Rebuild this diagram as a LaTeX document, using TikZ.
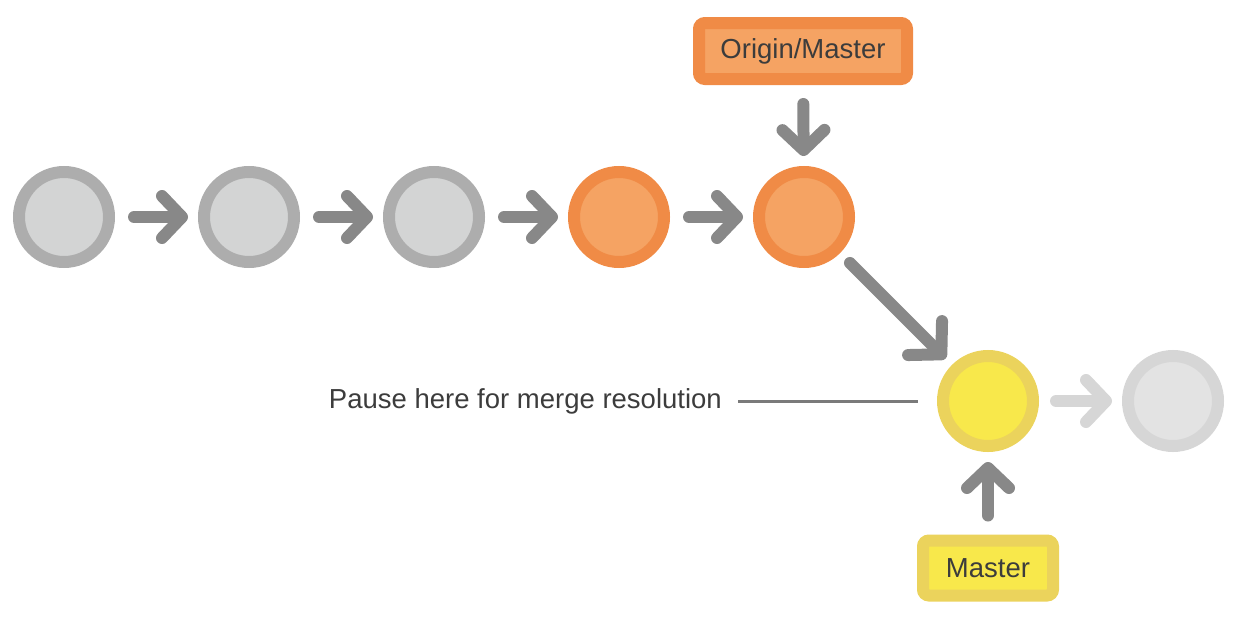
\documentclass[tikz,border=0pt]{standalone}
\usepackage{fontspec}
\setmainfont{Liberation Sans}
\usetikzlibrary{arrows.meta}
\definecolor{gring}{HTML}{ADADAD}
\definecolor{gfill}{HTML}{D3D4D4}
\definecolor{oring}{HTML}{F08B46}
\definecolor{ofill}{HTML}{F5A363}
\definecolor{yring}{HTML}{EBD35C}
\definecolor{yfill}{HTML}{F8E84B}
\definecolor{lring}{HTML}{D6D6D6}
\definecolor{lfill}{HTML}{E3E3E3}
\definecolor{arrgray}{HTML}{888888}
\definecolor{arrlight}{HTML}{D6D6D6}
\definecolor{txt}{HTML}{3C3C3C}
\definecolor{linegray}{HTML}{7A7A7A}
\begin{document}
\begin{tikzpicture}[x=1pt,y=-1pt,
  commit/.style={circle, line width=12pt, minimum size=90pt, inner sep=0pt},
  graycommit/.style={commit, draw=gring, fill=gfill},
  orangecommit/.style={commit, draw=oring, fill=ofill},
  yellowcommit/.style={commit, draw=yring, fill=yfill},
  lightcommit/.style={commit, draw=lring, fill=lfill},
  tag/.style={rectangle, rounded corners=6pt, line width=12pt, inner sep=0pt,
    text=txt, font=\fontsize{27.5}{33}\selectfont},
  arr/.style={draw=arrgray, line width=12pt, line cap=round,
    -{Straight Barb[round, length=20pt, width=42pt]},
    shorten <=19pt, shorten >=10pt},
  diagarr/.style={arr, -{Straight Barb[round, length=23pt, width=48pt]},
    shorten <=14pt, shorten >=9pt},
  lightarr/.style={arr, draw=arrlight, shorten <=17pt},
  note/.style={inner sep=0pt, text=txt, font=\fontsize{27.5}{33}\selectfont},
  noteline/.style={draw=linegray, line width=3pt, shorten <=16pt, shorten >=19pt}
]
\useasboundingbox (0,0) rectangle (1240,616);

\node[graycommit] (c1) at (64,217) {};
\node[graycommit] (c2) at (249,217) {};
\node[graycommit] (c3) at (434,217) {};
\node[orangecommit] (c4) at (619,217) {};
\node[orangecommit] (c5) at (804,217) {};
\node[yellowcommit] (cy) at (988,401) {};
\node[lightcommit] (cn) at (1173,401) {};

\node[tag, draw=oring, fill=ofill, minimum width=208pt, minimum height=56pt] (om) at (803,51) {Origin/Master};
\node[tag, draw=yring, fill=yfill, minimum width=130pt, minimum height=55pt] (ms) at (988,568) {Master};

\node[note, anchor=east] (pause) at (722,401) {Pause here for merge resolution};

\draw[arr] (c1) -- (c2);
\draw[arr] (c2) -- (c3);
\draw[arr] (c3) -- (c4);
\draw[arr] (c4) -- (c5);
\draw[arr] (om) -- (c5);
\draw[diagarr] (c5) -- (cy);
\draw[arr] (ms) -- (cy);
\draw[lightarr] (cy) -- (cn);
\draw[noteline] (pause) -- (cy);
\end{tikzpicture}
\end{document}
